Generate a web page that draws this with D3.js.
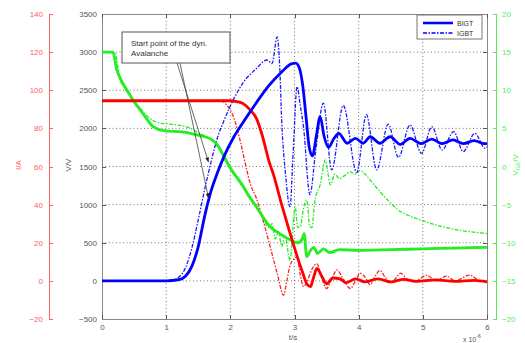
<!DOCTYPE html>
<html>
<head>
<meta charset="utf-8">
<script src="https://cdn.jsdelivr.net/npm/d3@7"></script>
<style>
  body { margin: 0; background: #fff; }
  svg { display: block; font-family: "Liberation Sans", Arial, sans-serif; }
  .axis path, .axis line { shape-rendering: crispEdges; }
</style>
</head>
<body>
<div id="chart"></div>
<script>
// time in us
const bigtVoltage = [[0,0],[1.0,0],[1.2,15],[1.3,60],[1.4,190],[1.5,450],[1.6,850],[1.7,1180],[1.8,1420],[1.9,1630],
  [2.05,1880],[2.2,2080],[2.4,2330],[2.6,2560],[2.8,2740],[2.95,2845],[3.02,2855],[3.08,2780],[3.13,2550],[3.18,2150],
  [3.23,1750],[3.28,1640],[3.34,1900],[3.40,2155],[3.46,1900],[3.53,1750],[3.61,1860],[3.69,1935],[3.82,1805],[3.95,1870],
  [4.07,1805],[4.18,1890],[4.33,1805],[4.49,1890],[4.65,1790],[4.8,1870],[4.97,1800],[5.14,1860],[5.3,1800],[5.47,1850],
  [5.63,1800],[5.8,1840],[5.95,1800],[6,1800]];
const igbtVoltage = [[0,0],[1.05,0],[1.1,10],[1.2,50],[1.3,170],[1.4,430],[1.5,800],[1.6,1200],[1.7,1560],[1.8,1880],
  [1.9,2100],[2.05,2380],[2.2,2600],[2.4,2780],[2.57,2897],[2.65,2850],[2.73,3200],[2.77,2800],[2.80,2110],[2.86,1400],
  [2.93,973],[2.98,1700],[3.04,2547],[3.09,2300],[3.14,2022],[3.24,1130],[3.33,1700],[3.45,2330],[3.58,1455],[3.76,2300],
  [3.97,1420],[4.12,2180],[4.28,1455],[4.46,2055],[4.62,1620],[4.80,2045],[4.98,1673],[5.14,2022],[5.30,1717],[5.48,1957],
  [5.63,1695],[5.81,1935],[5.97,1740],[6,1760]];
const bigtCurrent = [[0,94.5],[2.0,94.5],[2.1,94],[2.2,93],[2.3,90],[2.41,85],[2.5,76],[2.6,63],[2.67,56],[2.8,40],
  [2.93,25],[3.04,13],[3.12,5],[3.2,-2],[3.25,-3],[3.29,1],[3.35,6.5],[3.43,2],[3.5,-1.5],[3.6,1.5],[3.71,1],[3.8,-1],
  [3.95,1],[4.1,-0.5],[4.3,1],[4.5,-0.5],[4.7,0.8],[4.9,-0.3],[5.2,0.5],[5.5,-0.3],[5.8,0.3],[6,-0.5]];
const igbtCurrent = [[0,94.5],[1.85,94.5],[1.95,92],[2.05,86],[2.15,74],[2.23,62],[2.31,51],[2.41,43],[2.5,33],[2.62,18],
  [2.73,4],[2.83,-7.5],[2.88,0],[2.93,8],[2.98,11],[3.04,12.5],[3.09,3],[3.14,-3],[3.2,0],[3.27,6],[3.35,9],[3.42,2],
  [3.5,-4],[3.58,1],[3.66,5.7],[3.76,1],[3.87,-4],[3.95,0],[4.02,4],[4.1,2],[4.18,-2],[4.25,2],[4.33,5.5],[4.41,2],
  [4.49,-1],[4.57,1],[4.65,4],[4.75,1],[4.85,-0.5],[4.95,1],[5.06,3],[5.2,0],[5.37,2.5],[5.5,0],[5.73,3],[5.9,0],[6,0]];
const bigtGate = [[0,15],[0.17,15],[0.23,12.7],[0.3,11.3],[0.39,10],[0.5,8.5],[0.6,7.4],[0.7,6.2],[0.8,5.2],[0.96,4.7],
  [1.27,4.5],[1.45,4.2],[1.6,3.9],[1.7,3.6],[1.8,2.8],[1.89,1.5],[2.0,-0.2],[2.1,-1.4],[2.2,-2.6],[2.3,-4.0],[2.41,-5.3],
  [2.5,-6.5],[2.62,-7.9],[2.75,-8.7],[2.93,-9.6],[3.05,-10],[3.12,-9.5],[3.15,-8.8],[3.19,-11.8],[3.25,-11],[3.3,-10.6],
  [3.36,-11.4],[3.45,-10.8],[3.55,-11.3],[3.7,-10.9],[4.0,-11],[4.5,-10.9],[5.0,-10.8],[5.5,-10.7],[6,-10.6]];
const igbtGate = [[0,15],[0.2,15],[0.25,13],[0.28,11.5],[0.35,10.3],[0.49,8.7],[0.6,7.6],[0.75,6.3],[0.9,5.7],[1.0,5.6],
  [1.32,5.2],[1.53,4.3],[1.65,3.8],[1.8,2.6],[1.89,1.3],[2.0,-0.4],[2.1,-1.6],[2.2,-2.8],[2.3,-4.2],[2.41,-5.5],[2.5,-6.7],
  [2.6,-8],[2.65,-7.5],[2.7,-9.5],[2.75,-8.5],[2.8,-10.5],[2.85,-9],[2.93,-12.3],[3.01,-5.3],[3.05,-8],[3.09,-7.9],
  [3.14,-5.5],[3.19,-4.4],[3.24,-7.9],[3.27,-8],[3.32,-4.4],[3.40,-2.4],[3.48,0.85],[3.56,-2.4],[3.63,-1],[3.70,-1.6],
  [3.78,-1.2],[3.87,-0.7],[3.95,-1],[4.02,-0.5],[4.12,-1.2],[4.23,-2.3],[4.44,-4.3],[4.65,-5.9],[4.80,-6.5],[4.96,-7.0],
  [5.22,-7.7],[5.53,-8.3],[5.89,-8.7],[6,-8.8]];

const timeTicks = [0, 1, 2, 3, 4, 5, 6];
const voltTicks = [-500, 0, 500, 1000, 1500, 2000, 2500, 3000, 3500];
const currentTicks = [-20, 0, 20, 40, 60, 80, 100, 120, 140];
const gateTicks = [-20, -15, -10, -5, 0, 5, 10, 15, 20];
const legendLabels = ["BIGT", "IGBT"];

const width = 525, height = 343;
const plotLeft = 102, plotRight = 487, plotTop = 14, plotBottom = 319;
const fmt = d3.format('d');

const svg = d3.select('#chart').append('svg')
  .attr('width', width)
  .attr('height', height);

const x = d3.scaleLinear().domain([0, 6]).range([plotLeft, plotRight]);
const yV = d3.scaleLinear().domain([-500, 3500]).range([plotBottom, plotTop]);
const yI = d3.scaleLinear().domain([-20, 140]).range([plotBottom, plotTop]);
const yG = d3.scaleLinear().domain([-20, 20]).range([plotBottom, plotTop]);

// dotted grid
const grid = svg.append('g').attr('stroke', '#777').attr('stroke-width', 1).attr('stroke-dasharray', '1,2.5');
grid.selectAll('.gx').data(timeTicks.slice(1, -1)).enter().append('line')
  .attr('x1', d => x(d)).attr('x2', d => x(d)).attr('y1', plotTop).attr('y2', plotBottom);
grid.selectAll('.gy').data(voltTicks.slice(1, -1)).enter().append('line')
  .attr('x1', plotLeft).attr('x2', plotRight).attr('y1', d => yV(d)).attr('y2', d => yV(d));

function styleAxis(g, color, size) {
  g.attr('class', 'axis');
  g.selectAll('path').attr('stroke', color);
  g.selectAll('line').attr('stroke', color);
  g.selectAll('text').attr('fill', color).attr('font-size', size || 8).attr('font-family', '"Liberation Sans", Arial, sans-serif');
}

// frame axes
svg.append('g').attr('transform', `translate(${plotLeft},0)`)
  .call(d3.axisLeft(yV).tickValues(voltTicks).tickSize(-4).tickPadding(5).tickFormat(fmt))
  .call(g => styleAxis(g, '#555'));
svg.append('g').attr('transform', `translate(${plotRight},0)`)
  .call(d3.axisRight(yV).tickValues(voltTicks).tickSize(-4).tickFormat(''))
  .call(g => styleAxis(g, '#555'));
svg.append('g').attr('transform', `translate(0,${plotBottom})`)
  .call(d3.axisBottom(x).tickValues(timeTicks).tickSize(-4).tickPadding(5).tickFormat(fmt))
  .call(g => styleAxis(g, '#555'));
svg.append('g').attr('transform', `translate(0,${plotTop})`)
  .call(d3.axisTop(x).tickValues(timeTicks).tickSize(-4).tickFormat(''))
  .call(g => styleAxis(g, '#555'));
svg.selectAll('.axis path.domain').attr('stroke', '#888').attr('stroke-width', 1.5);

// current axis (red) and gate axis (green)
svg.append('g').attr('transform', 'translate(49,0)')
  .call(d3.axisLeft(yI).tickValues(currentTicks).tickSize(-4).tickPadding(6).tickFormat(fmt))
  .call(g => styleAxis(g, '#ff6060'));
svg.append('g').attr('transform', 'translate(496,0)')
  .call(d3.axisRight(yG).tickValues(gateTicks).tickSize(-3).tickPadding(6).tickFormat(fmt))
  .call(g => styleAxis(g, '#55ee55'));

// axis titles
svg.append('text').attr('transform', 'translate(21,165) rotate(-90)')
  .attr('text-anchor', 'middle').attr('font-size', 8).attr('fill', '#ff6060').text('I/A');
svg.append('text').attr('transform', 'translate(71,165) rotate(-90)')
  .attr('text-anchor', 'middle').attr('font-size', 8).attr('fill', '#555').text('V/V');
svg.append('text').attr('x', 293).attr('y', 340)
  .attr('text-anchor', 'middle').attr('font-size', 8).attr('fill', '#555').text('t/s');
const gl = svg.append('text').attr('transform', 'translate(518,165) rotate(-90)')
  .attr('text-anchor', 'middle').attr('font-size', 8).attr('fill', '#55ee55');
gl.append('tspan').text('V');
gl.append('tspan').attr('font-size', 6).attr('dy', 2).text('GE');
gl.append('tspan').attr('dy', -2).text('/V');
const ex = svg.append('text').attr('x', 463).attr('y', 342).attr('font-size', 7).attr('fill', '#555');
ex.append('tspan').text('x 10');
ex.append('tspan').attr('font-size', 5).attr('dy', -4).text('-6');

// curves
const series = [
  { data: igbtGate, y: yG, color: '#22ee22', dash: true },
  { data: igbtCurrent, y: yI, color: '#ff2020', dash: true },
  { data: igbtVoltage, y: yV, color: '#1a1aff', dash: true },
  { data: bigtGate, y: yG, color: '#22ee22', dash: false },
  { data: bigtCurrent, y: yI, color: '#ff0000', dash: false },
  { data: bigtVoltage, y: yV, color: '#0000ff', dash: false }
];
const plot = svg.append('g');
series.forEach(s => {
  const line = d3.line().curve(d3.curveMonotoneX).x(d => x(d[0])).y(d => s.y(d[1]));
  plot.append('path')
    .datum(s.data)
    .attr('d', line)
    .attr('fill', 'none')
    .attr('stroke', s.color)
    .attr('stroke-width', s.dash ? 1.3 : 2.8)
    .attr('stroke-dasharray', s.dash ? '4,1.5,1.5,1.5' : null)
    .attr('stroke-linejoin', 'round');
});

// legend
const lg = svg.append('g');
lg.append('rect').attr('x', 417).attr('y', 15).attr('width', 65).attr('height', 24)
  .attr('fill', '#fff').attr('stroke', '#777');
legendLabels.forEach((lab, i) => {
  const yy = 23 + i * 10;
  lg.append('line').attr('x1', 423).attr('x2', 453).attr('y1', yy).attr('y2', yy)
    .attr('stroke', '#0000ff').attr('stroke-width', i === 0 ? 2.6 : 1.3)
    .attr('stroke-dasharray', i === 0 ? null : '4,1.5,1.5,1.5');
  lg.append('text').attr('x', 457).attr('y', yy + 2.5).attr('font-size', 7).attr('fill', '#333').text(lab);
});

// annotation
svg.append('defs').append('marker')
  .attr('id', 'arrowhead')
  .attr('viewBox', '0 -5 10 10')
  .attr('refX', 10).attr('refY', 0)
  .attr('orient', 'auto')
  .attr('markerWidth', 6).attr('markerHeight', 6)
  .append('path').attr('d', 'M0,-4L10,0L0,4Z').attr('fill', '#222');
svg.append('line').attr('x1', 177).attr('y1', 63).attr('x2', x(1.66)).attr('y2', yV(1557))
  .attr('stroke', '#444').attr('stroke-width', 0.8).attr('marker-end', 'url(#arrowhead)');
svg.append('line').attr('x1', 180).attr('y1', 63).attr('x2', x(1.66)).attr('y2', yV(1085))
  .attr('stroke', '#444').attr('stroke-width', 0.8).attr('marker-end', 'url(#arrowhead)');
svg.append('rect').attr('x', 122).attr('y', 32).attr('width', 108).attr('height', 31)
  .attr('fill', '#fff').attr('stroke', '#555').attr('stroke-width', 1);
svg.append('text').attr('x', 131).attr('y', 46).attr('font-size', 8).attr('fill', '#333').text('Start point of the dyn.');
svg.append('text').attr('x', 131).attr('y', 56).attr('font-size', 8).attr('fill', '#333').text('Avalanche');
</script>
</body>
</html>
